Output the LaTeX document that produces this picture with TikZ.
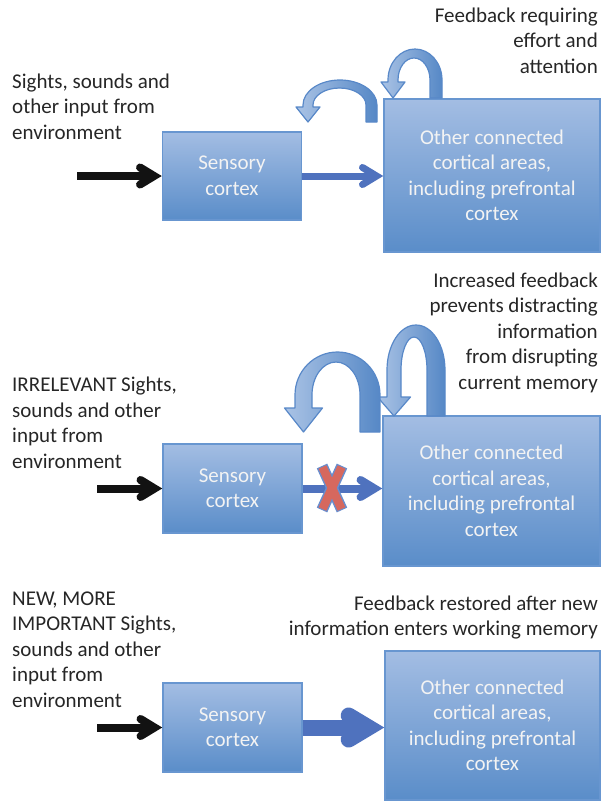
\documentclass[tikz,border=0pt]{standalone}
\usepackage{fontspec}
\setmainfont{Carlito}
\usetikzlibrary{calc}
\definecolor{boxtop}{RGB}{163,189,227}
\definecolor{boxbot}{RGB}{90,141,201}
\definecolor{boxborder}{RGB}{104,150,208}
\definecolor{boxtext}{RGB}{243,243,243}
\definecolor{arcleft}{RGB}{170,195,229}
\definecolor{arcright}{RGB}{86,136,198}
\definecolor{arcborder}{RGB}{88,136,200}
\definecolor{bluearrow}{RGB}{79,114,190}
\definecolor{txt}{RGB}{38,38,38}
\definecolor{blackarrow}{RGB}{18,18,18}
\definecolor{xred}{RGB}{214,104,94}
\definecolor{xborder}{RGB}{104,142,206}
\newcommand{\bodyfont}{\fontsize{21}{25.5}\selectfont}
\tikzset{
  cbox/.style={draw=boxborder, line width=1.5pt, top color=boxtop, bottom color=boxbot,
    text=boxtext, font=\bodyfont, align=center, inner sep=0pt},
  sensbox/.style={cbox, minimum width=139pt, minimum height=89pt},
  othbox/.style={cbox, minimum width=216pt, minimum height=151pt},
  lbl/.style={text=txt, font=\bodyfont, inner sep=0pt},
  arcarrow/.style={draw=arcborder, line width=1.2pt, left color=arcleft, right color=arcright, line join=round},
}
% curved feedback arrow: xlo xli xri xro yc ryo ryi ybottom yhead ; head half width in \hh
\newcommand{\carrow}[9]{%
  \pgfmathsetmacro\rxo{(#4-#1)/2}%
  \pgfmathsetmacro\rxi{(#3-#2)/2}%
  \pgfmathsetmacro\tx{(#1+#2)/2}%
  \path[arcarrow] (#4,#8) -- (#4,#5) arc[start angle=0,end angle=180,x radius=\rxo pt,y radius=#6pt]
    -- (#1,#9) -- (\tx-\hh,#9) -- (\tx,#8) -- (\tx+\hh,#9) -- (#2,#9) -- (#2,#5)
    arc[start angle=180,end angle=0,x radius=\rxi pt,y radius=#7pt] -- (#3,#8) -- cycle;
}
% chevron-headed thick arrow: style, width, from, to, L, H
\newcommand{\chevarrow}[6]{%
  \pgfmathsetmacro\chext{#2/(2*sin(atan(#6/#5)))}%
  \draw[#1, line width=#2pt] (#3) -- ($(#4)+(-\chext,0)$);
  \draw[#1, line width=#2pt, line cap=round, line join=miter, miter limit=20]
    ($(#4)+(-\chext-#5,#6)$) -- ($(#4)+(-\chext,0)$) -- ($(#4)+(-\chext-#5,-#6)$);
}
\begin{document}
\begin{tikzpicture}[x=1pt,y=-1pt]
\useasboundingbox (0,0) rectangle (605,801);

% ---------- panel 1
\node[sensbox, minimum height=88pt] (s1) at (232,176) {Sensory\\cortex};
\node[othbox, minimum height=153pt] (o1) at (492,175.5) {Other connected\\cortical areas,\\including prefrontal\\cortex};
\node[lbl, anchor=base west, align=left] (in1) at (12,139) {Sights, sounds and\\other input from\\environment};
\node[lbl, anchor=base east, align=right] (fb1) at (598,73) {Feedback requiring\\effort and\\attention};
\coordinate (a1) at (77,176);
\chevarrow{blackarrow}{8}{a1}{s1.west}{14}{8.5}
\chevarrow{bluearrow}{7}{s1.east}{o1.west|-s1.east}{14}{8.5}
\def\hh{12}
\carrow{388}{398}{430}{442}{80}{31}{22}{98}{82}
\carrow{303}{313}{366}{377}{105}{25}{17}{122}{107}

% ---------- panel 2
\node[sensbox] (s2) at (232.5,488.5) {Sensory\\cortex};
\node[othbox, minimum height=150pt, minimum width=217pt] (o2) at (491.5,491) {Other connected\\cortical areas,\\including prefrontal\\cortex};
\node[lbl, anchor=base west, align=left] (in2) at (12,468) {IRRELEVANT Sights,\\sounds and other\\input from\\environment};
\node[lbl, anchor=base east, align=right] (fb2) at (598,389) {Increased feedback\\prevents distracting\\information\\from disrupting\\current memory};
\coordinate (a2) at (97,488.5);
\chevarrow{blackarrow}{8}{a2}{s2.west}{14}{8.5}
\chevarrow{bluearrow}{8}{s2.east}{o2.west|-s2.east}{14}{8.5}
\coordinate (xc) at (332,488);
\draw[xborder, line width=11.5pt] ($(xc)+(-10,-22)$) -- ($(xc)+(10,22)$) ($(xc)+(10,-22)$) -- ($(xc)+(-10,22)$);
\draw[xred, line width=8.5pt] ($(xc)+(-9.5,-21)$) -- ($(xc)+(9.5,21)$) ($(xc)+(9.5,-21)$) -- ($(xc)+(-9.5,21)$);
\def\hh{16.5}
\carrow{387}{401}{427}{445}{370}{45}{33}{416}{397}
\def\hh{19}
\carrow{295}{312}{360}{380}{395}{43}{33}{432}{408}

% ---------- panel 3
\node[sensbox] (s3) at (232.5,727.5) {Sensory\\cortex};
\node[othbox, minimum height=149pt, minimum width=215pt] (o3) at (492.5,725.5) {Other connected\\cortical areas,\\including prefrontal\\cortex};
\node[lbl, anchor=base west, align=left] (in3) at (12,707) {NEW, MORE\\IMPORTANT Sights,\\sounds and other\\input from\\environment};
\node[lbl, anchor=base east, align=right] (fb3) at (598,635.5) {Feedback restored after new\\information enters working memory};
\coordinate (a3) at (97,727.5);
\chevarrow{blackarrow}{8}{a3}{s3.west}{14}{8.5}
\chevarrow{bluearrow}{16}{s3.east}{o3.west|-s3.east}{20}{12}
\end{tikzpicture}
\end{document}
